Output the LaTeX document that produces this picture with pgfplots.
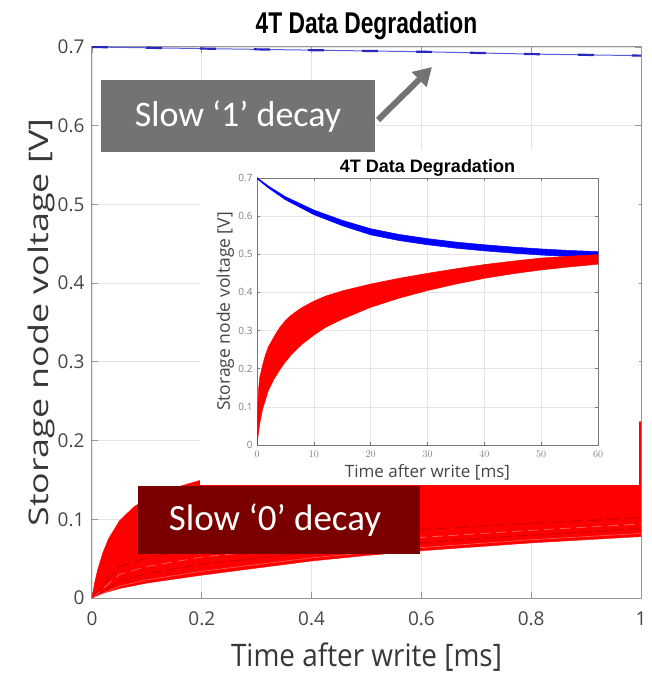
\documentclass[border=0pt]{standalone}
\usepackage{pgfplots}
\pgfplotsset{compat=1.18}
\usetikzlibrary{arrows.meta}
\usepackage{fontspec}
\setmainfont{Open Sans}
\newfontfamily\titlefont{Liberation Sans}[FakeStretch=0.76]
\newfontfamily\insettitlefont{Liberation Sans}
\newfontfamily\xlabfont{Open Sans}[FakeStretch=0.9]
\newfontfamily\ylabfont{Open Sans}[FakeStretch=1.33]
\newfontfamily\boxfont{Carlito}
\definecolor{mainblue}{RGB}{40,40,190}
\definecolor{lineblue}{RGB}{90,90,220}
\definecolor{axgray}{RGB}{150,150,150}
\definecolor{gridgray}{RGB}{228,228,228}
\definecolor{boxgray}{RGB}{115,115,115}
\definecolor{boxred}{RGB}{122,0,0}
\definecolor{ticktext}{RGB}{70,70,70}
\definecolor{darkline}{RGB}{185,0,0}
\begin{document}
\begin{tikzpicture}
\path[use as bounding box] (-92pt,-76pt) rectangle (559pt,598pt);
% ---------------- main axis ----------------
\begin{axis}[
  at={(0pt,0pt)}, anchor=south west,
  scale only axis, width=549pt, height=551pt,
  xmin=0, xmax=1, ymin=0, ymax=0.7,
  xtick={0,0.2,0.4,0.6,0.8,1}, xticklabels={0,0.2,0.4,0.6,0.8,1},
  ytick={0,0.1,0.2,0.3,0.4,0.5,0.6,0.7}, yticklabels={0,0.1,0.2,0.3,0.4,0.5,0.6,0.7},
  grid=major, major grid style={gridgray, line width=0.8pt},
  axis line style={axgray, line width=1pt},
  tick style={axgray, line width=0.8pt}, tick align=inside, major tick length=6pt,
  /pgf/number format/assume math mode=true,
  tick label style={font=\fontsize{19}{22}\selectfont, text=ticktext},
  xticklabel style={yshift=-10pt},
  yticklabel style={xshift=-4pt},
  title={\titlefont\fontsize{30}{32}\selectfont\bfseries 4T Data Degradation},
  title style={at={(axis description cs:0.5,1)}, anchor=base, yshift=7pt},
  xlabel={\xlabfont\fontsize{31}{34}\selectfont Time after write [ms]},
  xlabel style={at={(axis description cs:0.5,-0.1252)}, anchor=base, text=ticktext!80!black},
  ylabel={\ylabfont\fontsize{27}{30}\selectfont Storage node voltage [V]},
  ylabel style={at={(axis description cs:-0.0801,0.5)}, anchor=base, rotate=0, text=ticktext!80!black},
]
\addplot[draw=red, line width=0.4pt, fill=red] coordinates {
 (0,0) (0.005,0.02) (0.01,0.035) (0.02,0.058) (0.03,0.075) (0.05,0.098) (0.075,0.115) (0.1,0.127)
 (0.15,0.14) (0.2,0.15) (0.3,0.163) (0.4,0.174) (0.5,0.183) (0.6,0.192) (0.7,0.2) (0.8,0.208)
 (0.9,0.216) (1.0,0.224) (1.0,0.078) (0.9,0.074) (0.8,0.07) (0.7,0.065) (0.6,0.06) (0.5,0.054)
 (0.4,0.047) (0.3,0.038) (0.2,0.029) (0.1,0.019) (0.05,0.012) (0.02,0.006) (0,0)};
\addplot[darkline, line width=1pt, dash pattern=on 12pt off 4pt, opacity=0.7] coordinates {
 (0,0) (0.05,0.022) (0.1,0.031) (0.2,0.043) (0.4,0.058) (0.6,0.07) (0.8,0.08) (1,0.088)};
\addplot[red!55!white, line width=0.8pt, dash pattern=on 10pt off 6pt, opacity=0.8] coordinates {
 (0,0) (0.05,0.03) (0.1,0.04) (0.2,0.052) (0.4,0.066) (0.6,0.077) (0.8,0.086) (1,0.094)};
\addplot[darkline, line width=1pt, dash pattern=on 14pt off 5pt, opacity=0.7] coordinates {
 (0,0) (0.05,0.04) (0.1,0.051) (0.2,0.063) (0.4,0.077) (0.6,0.087) (0.8,0.095) (1,0.102)};
\addplot[red!60!white, line width=0.7pt, opacity=0.8] coordinates {
 (0,0) (0.05,0.015) (0.1,0.023) (0.2,0.034) (0.4,0.051) (0.6,0.064) (0.8,0.074) (1,0.082)};
\addplot[lineblue, line width=1pt] coordinates {
 (0,0.700) (0.2,0.698) (0.4,0.696) (0.6,0.694) (0.8,0.691) (1,0.689)};
\addplot[mainblue, line width=2.2pt, dash pattern=on 16pt off 38pt] coordinates {
 (0,0.700) (0.2,0.698) (0.4,0.696) (0.6,0.694) (0.8,0.691) (1,0.689)};
\fill[white] (axis cs:0.197,0.1436) rectangle (axis cs:0.996,0.569);
\end{axis}
% ---------------- inset axis ----------------
\begin{axis}[
  at={(165pt,153pt)}, anchor=south west,
  scale only axis, width=341pt, height=267pt,
  xmin=0, xmax=60, ymin=0, ymax=0.7,
  xtick={0,10,20,30,40,50,60},
  ytick={0,0.1,0.2,0.3,0.4,0.5,0.6,0.7}, yticklabels={0,0.1,0.2,0.3,0.4,0.5,0.6,0.7},
  grid=major, major grid style={gridgray, line width=0.6pt},
  axis line style={axgray!80!black, line width=0.8pt},
  tick style={axgray!80!black, line width=0.6pt}, tick align=inside, major tick length=3pt,
  tick label style={font=\fontsize{10}{12}\selectfont, text=gray},
  xticklabel style={yshift=-3pt},
  yticklabel style={xshift=-1pt},
  title={\insettitlefont\fontsize{18}{20}\selectfont\bfseries 4T Data Degradation},
  title style={at={(axis description cs:0.5,1)}, anchor=base, yshift=-1pt},
  xlabel={\fontsize{17}{19}\selectfont Time after write [ms]},
  xlabel style={at={(axis description cs:0.5,-0.1199)}, anchor=base, text=ticktext},
  ylabel={\fontsize{17.5}{19}\selectfont Storage node voltage [V]},
  ylabel style={at={(axis description cs:-0.0792,0.5)}, anchor=base, text=ticktext},
]
\addplot[draw=blue, line width=0.5pt, fill=blue] coordinates {
 (0,0.701) (2,0.679) (5,0.651) (10,0.616) (15,0.589) (20,0.567) (25,0.552) (30,0.541) (35,0.532)
 (40,0.525) (45,0.519) (50,0.514) (55,0.510) (60,0.507)
 (60,0.490) (55,0.494) (50,0.498) (45,0.503) (40,0.509) (35,0.516) (30,0.525) (25,0.536) (20,0.551)
 (15,0.575) (10,0.604) (5,0.643) (2,0.674) (0,0.698)};
\addplot[draw=red, line width=0.5pt, fill=red] coordinates {
 (0,0) (0.1,0.09) (0.3,0.15) (0.5,0.178) (1,0.21) (1.5,0.237) (2,0.257) (3,0.284) (4,0.308) (5,0.326)
 (6,0.34) (7,0.351) (8,0.361) (10,0.377) (12,0.39) (15,0.404) (20,0.422) (25,0.437) (30,0.45)
 (35,0.462) (40,0.473) (45,0.482) (50,0.49) (55,0.495) (60,0.499)
 (60,0.474) (55,0.467) (50,0.459) (45,0.449) (40,0.437) (35,0.422) (30,0.405) (25,0.385) (20,0.361)
 (15,0.33) (12,0.308) (10,0.288) (8,0.265) (7,0.251) (6,0.236) (5,0.218) (4,0.197) (3,0.173)
 (2,0.143) (1,0.095) (0.5,0.058) (0.2,0.025) (0,0)};
\end{axis}
% ---------------- annotations ----------------
\fill[boxgray] (9pt,446pt) rectangle (283pt,518pt);
\node[text=white, font=\boxfont\fontsize{36}{40}\selectfont] at (146pt,482pt) {Slow ‘1’ decay};
\draw[boxgray, line width=6pt, -{Triangle[length=18pt,width=20pt]}] (286pt,478pt) -- (340pt,531pt);
\fill[boxred] (46pt,44pt) rectangle (328pt,112pt);
\node[text=white, font=\boxfont\fontsize{37}{40}\selectfont] at (183pt,78pt) {Slow ‘0’ decay};
\end{tikzpicture}
\end{document}
